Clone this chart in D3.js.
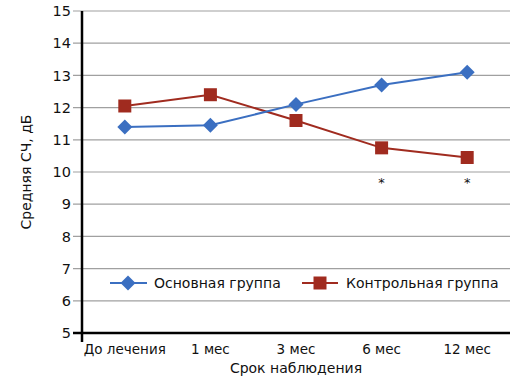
<!DOCTYPE html>
<html><head><meta charset="utf-8">
<script src="https://cdn.jsdelivr.net/npm/d3@7"></script>
<style>body{margin:0;background:#fff}svg{display:block}text{font-family:"DejaVu Sans",sans-serif;fill:#111}</style>
</head><body><svg id="c" width="518" height="380"></svg>
<script>
const categories = ["До лечения","1 мес","3 мес","6 мес","12 мес"];
const mainGroup = [11.4, 11.45, 12.1, 12.7, 13.1];
const controlGroup = [12.05, 12.4, 11.6, 10.75, 10.45];
const significant = [false, false, false, true, true];
const yTicks = [5,6,7,8,9,10,11,12,13,14,15];
const seriesNames = ["Основная группа","Контрольная группа"];

const svg = d3.select("#c");
const L=82, R=510, T=11, B=333;
const x = d3.scaleBand().domain(categories).range([L,R]);
const y = d3.scaleLinear().domain([5,15]).range([B,T]);
const blue="#3b6fc1", red="#a02b1f";

// gridlines
svg.append("g").selectAll("line").data(yTicks).join("line")
  .attr("x1",L-9).attr("x2",R).attr("y1",d=>y(d)).attr("y2",d=>y(d))
  .attr("stroke","#a0a0a0").attr("stroke-width",1.2);
// y labels
svg.append("g").selectAll("text").data(yTicks).join("text")
  .attr("x",71).attr("y",d=>y(d)).attr("dy","0.36em").attr("text-anchor","end")
  .style("font-size","14.5px").text(d=>d);
// axes lines
svg.append("line").attr("x1",L).attr("x2",L).attr("y1",T).attr("y2",B+9).attr("stroke","#000").attr("stroke-width",2.5);
svg.append("line").attr("x1",L-9).attr("x2",R).attr("y1",B).attr("y2",B).attr("stroke","#000").attr("stroke-width",2.5);
// x labels
svg.append("g").selectAll("text").data(categories).join("text")
  .attr("x",d=>x(d)+x.bandwidth()/2).attr("y",354).attr("text-anchor","middle")
  .style("font-size","13.5px").text(d=>d);
svg.append("text").attr("x",296).attr("y",373).attr("text-anchor","middle").style("font-size","14px").text("Срок наблюдения");
svg.append("text").attr("transform","translate(31,172) rotate(-90)").attr("text-anchor","middle").style("font-size","14px").text("Средняя СЧ, дБ");

const cx = d=>x(d)+x.bandwidth()/2;
const line = d3.line().x((d,i)=>cx(categories[i])).y(d=>y(d));
svg.append("path").attr("d",line(controlGroup)).attr("fill","none").attr("stroke",red).attr("stroke-width",2);
svg.append("path").attr("d",line(mainGroup)).attr("fill","none").attr("stroke",blue).attr("stroke-width",2);
const diamond = d3.symbol().type(d3.symbolDiamond2 || d3.symbolSquare).size(110);
function diamondPath(s){return `M0,${-s}L${s},0L0,${s}L${-s},0Z`;}
svg.append("g").selectAll("path").data(controlGroup).join("path")
  .attr("d","M-6.5,-6.5H6.5V6.5H-6.5Z").attr("fill",red)
  .attr("transform",(d,i)=>`translate(${cx(categories[i])},${y(d)})`);
svg.append("g").selectAll("path").data(mainGroup).join("path")
  .attr("d",diamondPath(7.5)).attr("fill",blue)
  .attr("transform",(d,i)=>`translate(${cx(categories[i])},${y(d)})`);
// asterisks
svg.append("g").selectAll("text").data(categories.filter((c,i)=>significant[i])).join("text")
  .attr("x",d=>cx(d)).attr("y",187).attr("text-anchor","middle").style("font-size","13px").text("*");

// legend
const lg = svg.append("g");
lg.append("line").attr("x1",110).attr("x2",147).attr("y1",283).attr("y2",283).attr("stroke",blue).attr("stroke-width",2);
lg.append("path").attr("d",diamondPath(7.5)).attr("fill",blue).attr("transform","translate(128,283)");
lg.append("text").attr("x",154).attr("y",283).attr("dy","0.36em").style("font-size","14px").text(seriesNames[0]);
lg.append("line").attr("x1",302).attr("x2",338).attr("y1",283).attr("y2",283).attr("stroke",red).attr("stroke-width",2);
lg.append("path").attr("d","M-6.5,-6.5H6.5V6.5H-6.5Z").attr("fill",red).attr("transform","translate(320,283)");
lg.append("text").attr("x",346).attr("y",283).attr("dy","0.36em").style("font-size","14px").text(seriesNames[1]);
</script></body></html>
